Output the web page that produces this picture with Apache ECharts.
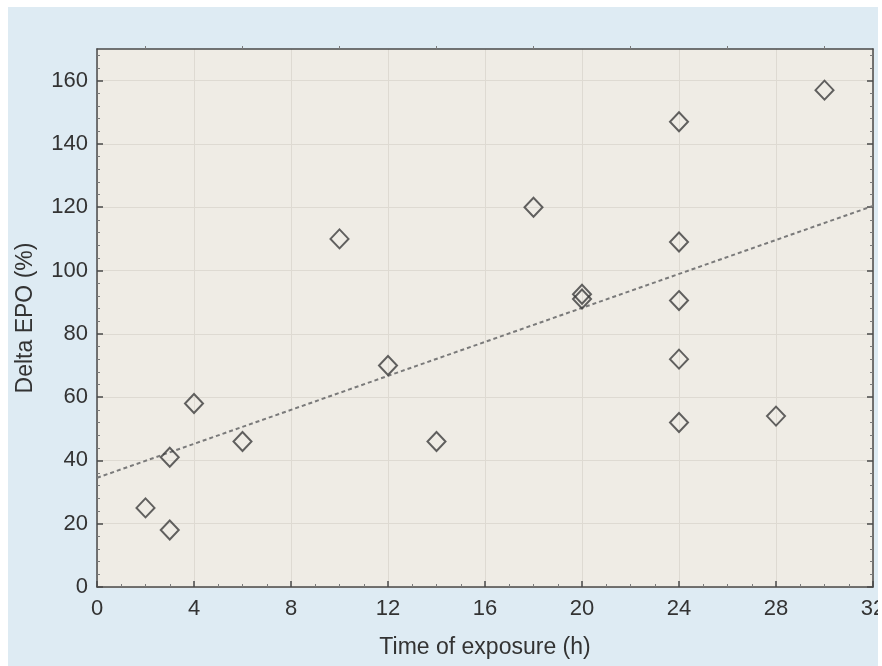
<!DOCTYPE html>
<html>
<head>
<meta charset="utf-8">
<script src="https://cdn.jsdelivr.net/npm/echarts@6/dist/echarts.min.js"></script>
<style>
  html, body { margin: 0; padding: 0; background: #ffffff; overflow: hidden; }
  #chart {
    position: absolute;
    left: 8px;
    top: 7px;
    width: 870px;
    height: 659px;
  }
</style>
</head>
<body>
<div id="chart"></div>
<script>
// exposure time (h) and delta EPO (%)
const exposureHours = [2, 3, 3, 4, 6, 10, 12, 14, 18, 20, 20, 24, 24, 24, 24, 24, 28, 30];
const deltaEpo = [25, 18, 41, 58, 46, 110, 70, 46, 120, 92.5, 91, 147, 109, 90.5, 72, 52, 54, 157];

// dotted fit line, end points read at x = 0 and x = 32
const trendX = [0, 32];
const trendY = [34.5, 120.4];

// tick labels as printed
const xTicks = [0, 4, 8, 12, 16, 20, 24, 28, 32];
const yTicks = [0, 20, 40, 60, 80, 100, 120, 140, 160];

const xName = 'Time of exposure (h)';
const yName = 'Delta EPO (%)';

const font = 'Liberation Sans, Arial, sans-serif';
const axisColor = '#4a4a4a';

const chart = echarts.init(document.getElementById('chart'));

const line = { show: true, onZero: false, lineStyle: { color: axisColor, width: 1.5 } };
const tick = (values) => ({
  show: true,
  inside: true,
  length: 6,
  customValues: values,
  lineStyle: { color: axisColor, width: 1.5 }
});
const minor = (n) => ({ show: true, length: 3, splitNumber: n, lineStyle: { color: '#7a7a7a', width: 1 } });

const option = {
  backgroundColor: '#deebf3',
  animation: false,
  grid: {
    left: 89,
    top: 42,
    right: 5,
    bottom: 79,
    outerBoundsMode: 'none',
    containLabel: false,
    show: true,
    backgroundColor: '#efece5',
    borderWidth: 0
  },
  xAxis: [{
    type: 'value',
    min: 0,
    max: 32,
    interval: 4,
    name: xName,
    nameLocation: 'middle',
    nameGap: 49,
    nameTextStyle: { fontFamily: font, fontSize: 23, color: '#333' },
    axisLine: line,
    axisTick: tick(xTicks),
    minorTick: minor(4),
    axisLabel: { margin: 11, fontFamily: font, fontSize: 22, color: '#333', customValues: xTicks },
    splitLine: { show: true, lineStyle: { color: '#dedad2', width: 1 } }
  }, {
    type: 'value',
    position: 'top',
    min: 0,
    max: 32,
    interval: 4,
    axisLine: line,
    axisTick: { show: false },
    minorTick: minor(2),
    axisLabel: { show: false },
    splitLine: { show: false }
  }],
  yAxis: [{
    type: 'value',
    min: 0,
    max: 170,
    interval: 20,
    name: yName,
    nameLocation: 'middle',
    nameGap: 60,
    nameTextStyle: { fontFamily: font, fontSize: 23, color: '#333' },
    axisLine: line,
    axisTick: tick(yTicks),
    minorTick: minor(5),
    axisLabel: { margin: 9, fontFamily: font, fontSize: 22, color: '#333', customValues: yTicks },
    splitLine: { show: true, lineStyle: { color: '#dedad2', width: 1 } }
  }, {
    type: 'value',
    position: 'right',
    min: 0,
    max: 170,
    interval: 20,
    axisLine: line,
    axisTick: tick(yTicks),
    minorTick: minor(5),
    axisLabel: { show: false },
    splitLine: { show: false }
  }],
  series: [{
    type: 'line',
    data: trendX.map((x, i) => [x, trendY[i]]),
    symbol: 'none',
    lineStyle: { color: '#7a7a7a', width: 2, type: [4, 3] },
    z: 2
  }, {
    type: 'scatter',
    data: exposureHours.map((x, i) => [x, deltaEpo[i]]),
    symbol: 'diamond',
    symbolSize: [18, 19],
    itemStyle: { color: 'rgba(0,0,0,0)', borderColor: '#3c3c3c', borderWidth: 2 },
    z: 3
  }]
};

chart.setOption(option);
window.addEventListener('resize', () => chart.resize());
</script>
</body>
</html>
